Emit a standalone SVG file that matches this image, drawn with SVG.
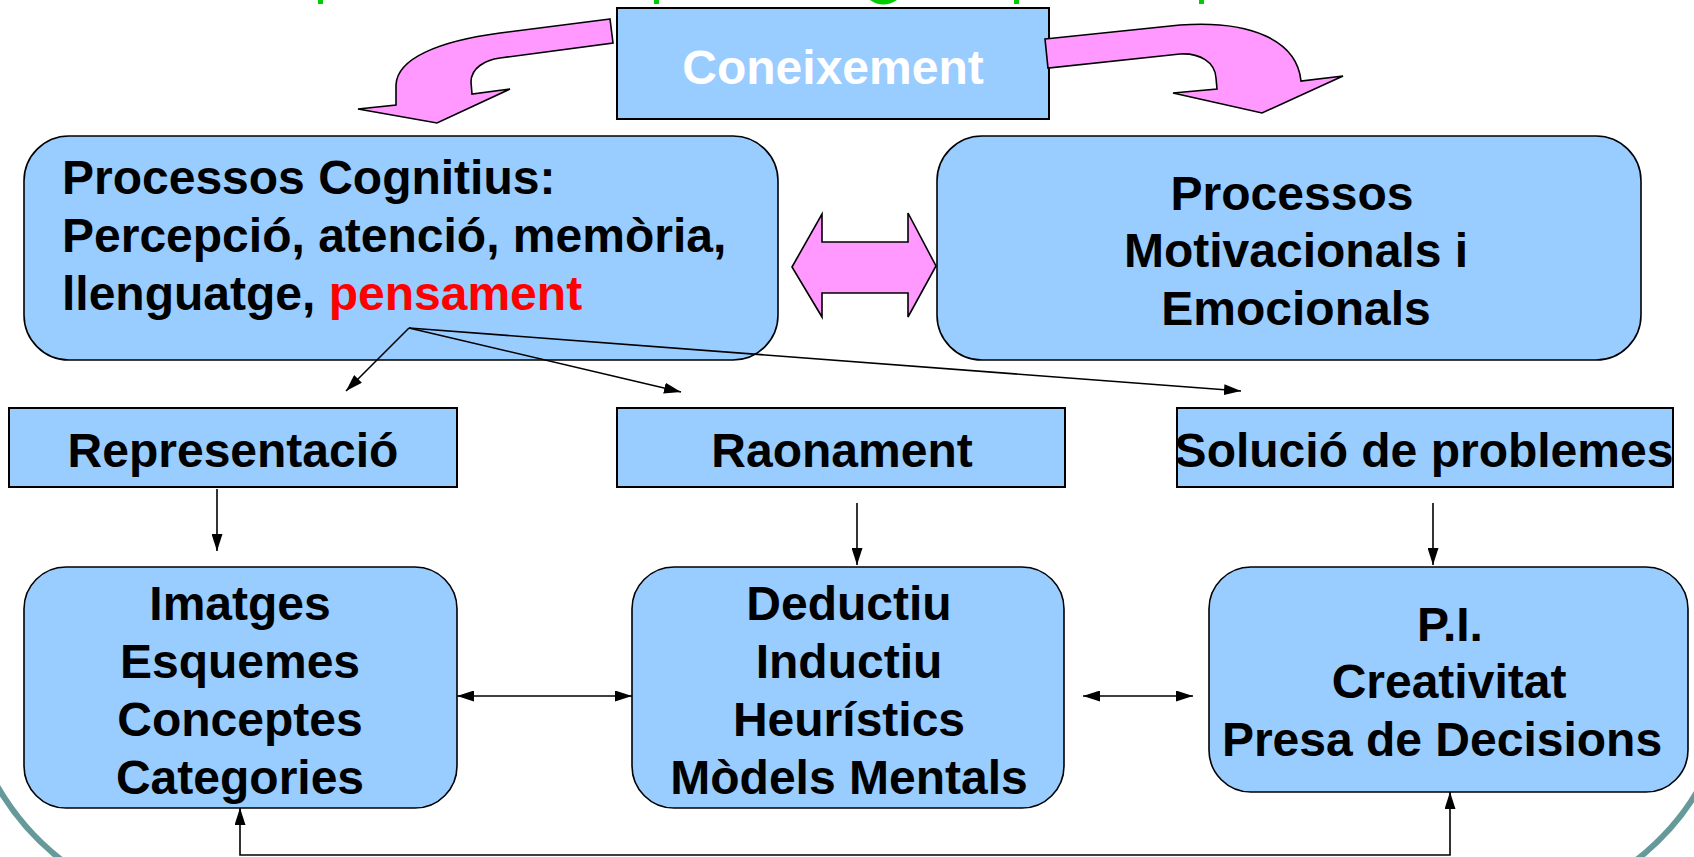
<svg xmlns="http://www.w3.org/2000/svg" width="1694" height="857" viewBox="0 0 1694 857">
<style>
.box{fill:#99CCFF;stroke:#000;stroke-width:1.6}
.rbox{fill:#99CCFF;stroke:#000;stroke-width:2}
.pink{fill:#FF99FF;stroke:#000;stroke-width:1.6;stroke-linejoin:miter}
.t{font-family:"Liberation Sans",Arial,sans-serif;font-weight:bold;font-size:48px;fill:#000}
.c{text-anchor:middle}
.con{fill:none;stroke:#000;stroke-width:1.6}
.teal{fill:none;stroke:#669999;stroke-width:6}
.green{fill:#00CC00}
</style>
<defs>
<marker id="ah" viewBox="0 0 17 11" refX="17" refY="5.5" markerWidth="17" markerHeight="11" markerUnits="userSpaceOnUse" orient="auto-start-reverse">
<path d="M0,0 L17,5.5 L0,11 Z" fill="#000"/>
</marker>
</defs>
<rect width="1694" height="857" fill="#fff"/>
<g id="title-fragments">
<rect class="green" x="318" y="0" width="5" height="4"/>
<rect class="green" x="654" y="0" width="5" height="4"/>
<path class="green" d="M870,0 Q883,9 897,0 Z"/>
<rect class="green" x="1014" y="0" width="5" height="4"/>
<rect class="green" x="1199" y="0" width="5" height="4"/>
</g>
<g id="frame">
<path class="teal" d="M-4,784 Q22,830 64,862"/>
<path class="teal" d="M1698,790 Q1675,830 1634,862"/>
</g>
<g id="coneixement">
<rect class="rbox" x="617" y="8" width="432" height="111"/>
<text class="t c" x="833" y="84" style="fill:#fff">Coneixement</text>
</g>
<g id="arrow-left-curved">
<path class="pink" d="M610,19 L500,33 C440,41 397,58 396,85 L396,105 L358,109 L437,123 L510,89 L472,94 L471,82 C471,68 485,60 500,58 L613,43 Z"/>
</g>
<g id="arrow-right-curved">
<path class="pink" d="M1045,39 L1180,25 C1250,20 1297,40 1301,81 L1343,76 L1262,113 L1173,93 L1217,89 L1216,78 C1215,62 1200,53 1180,54 L1048,68 Z"/>
</g>
<g id="cognitius">
<rect class="box" x="24" y="136" width="754" height="224" rx="45" ry="45"/>
<text class="t" x="62" y="194">Processos Cognitius:</text>
<text class="t" x="62" y="252">Percepció, atenció, memòria,</text>
<text class="t" x="62" y="310">llenguatge, <tspan style="fill:#FF0000">pensament</tspan></text>
</g>
<g id="double-arrow">
<path class="pink" d="M792,267 L822,214 L822,242 L908,242 L908,213 L936,266 L908,317 L908,293 L822,293 L822,317 Z"/>
</g>
<g id="motivacionals">
<rect class="box" x="937" y="136" width="704" height="224" rx="45" ry="45"/>
<text class="t c" x="1292" y="210">Processos</text>
<text class="t c" x="1296" y="267">Motivacionals i</text>
<text class="t c" x="1296" y="325">Emocionals</text>
</g>
<g id="representacio">
<rect class="rbox" x="9" y="408" width="448" height="79"/>
<text class="t c" x="233" y="467">Representació</text>
</g>
<g id="raonament">
<rect class="rbox" x="617" y="408" width="448" height="79"/>
<text class="t c" x="842" y="467">Raonament</text>
</g>
<g id="solucio">
<rect class="rbox" x="1177" y="408" width="496" height="79"/>
<text class="t c" x="1424" y="467">Solució de problemes</text>
</g>
<g id="imatges">
<rect class="box" x="24" y="567" width="433" height="241" rx="42" ry="42"/>
<text class="t c" x="240" y="620">Imatges</text>
<text class="t c" x="240" y="678">Esquemes</text>
<text class="t c" x="240" y="736">Conceptes</text>
<text class="t c" x="240" y="794">Categories</text>
</g>
<g id="deductiu">
<rect class="box" x="632" y="567" width="432" height="241" rx="42" ry="42"/>
<text class="t c" x="849" y="620">Deductiu</text>
<text class="t c" x="849" y="678">Inductiu</text>
<text class="t c" x="849" y="736">Heurístics</text>
<text class="t c" x="849" y="794">Mòdels Mentals</text>
</g>
<g id="pi">
<rect class="box" x="1209" y="567" width="479" height="225" rx="42" ry="42"/>
<text class="t c" x="1450" y="641">P.I.</text>
<text class="t c" x="1449" y="698">Creativitat</text>
<text class="t c" x="1442" y="756">Presa de Decisions</text>
</g>
<g id="connectors">
<path class="con" d="M409,328 L346,391" marker-end="url(#ah)"/>
<path class="con" d="M409,328 L681,392" marker-end="url(#ah)"/>
<path class="con" d="M409,328 L1241,391" marker-end="url(#ah)"/>
<path class="con" d="M217,489 L217,551" marker-end="url(#ah)"/>
<path class="con" d="M857,503 L857,565" marker-end="url(#ah)"/>
<path class="con" d="M1433,503 L1433,565" marker-end="url(#ah)"/>
<path class="con" d="M457,696 L632,696" marker-start="url(#ah)" marker-end="url(#ah)"/>
<path class="con" d="M1083,696 L1193,696" marker-start="url(#ah)" marker-end="url(#ah)"/>
<path class="con" d="M240,808 L240,855 L1450,855 L1450,792" marker-start="url(#ah)" marker-end="url(#ah)"/>
</g>
</svg>
